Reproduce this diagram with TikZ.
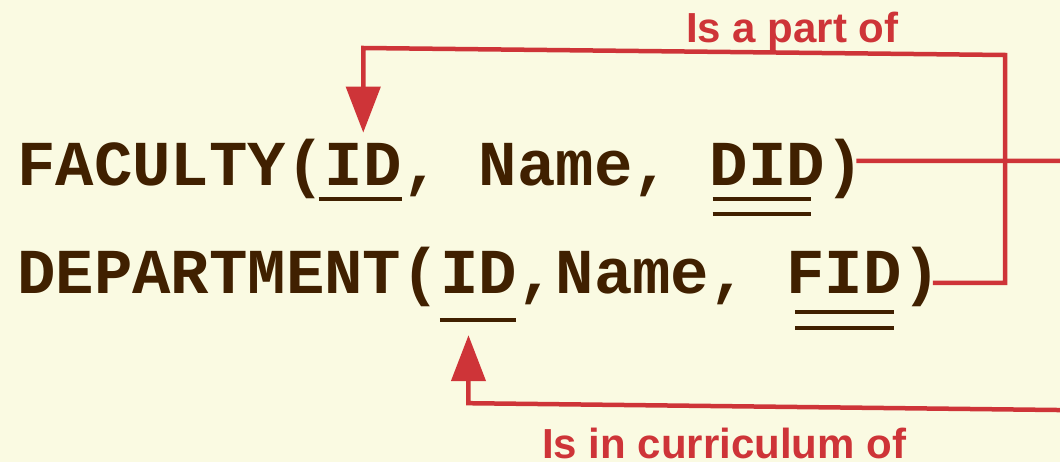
\documentclass[tikz,border=0pt]{standalone}
\usepackage{fontspec}
\setmainfont{Liberation Sans}
\newfontfamily\relfont{Liberation Mono}
\usetikzlibrary{arrows.meta, positioning}
\definecolor{paper}{RGB}{250,250,226}
\definecolor{ink}{RGB}{64,32,0}
\definecolor{fkred}{RGB}{206,52,56}
\newcommand{\cw}{38.4pt}% one character of the relation font

\begin{document}
\begin{tikzpicture}[x=1pt, y=-1pt, rel/.style={inner sep=0pt, anchor=base west, text=ink, font=\fontsize{64}{64}\selectfont\relfont\bfseries},key/.style={draw=ink, line width=4pt},fk/.style={draw=fkred, line width=4.5pt},arrow/.style={fk, -{Triangle[length=46pt, width=34pt]}},tag/.style={inner sep=0pt, anchor=base west, text=fkred, font=\fontsize{42}{42}\selectfont\bfseries}]
\fill[paper] (0,0) rectangle (1060,462);
\clip (0,0) rectangle (1060,462);
% FACULTY(ID, Name, DID)
\node[rel] (fac) at (17,186) {FACULTY(};
\node[rel] (facid) at (fac.base east) {ID};
\node[rel] (facname) at (facid.base east) {, Name,};
\node[right=\cw of facname.base east, rel] (facdid) {DID};
\node[rel] (facend) at (facdid.base east) {)};
% DEPARTMENT(ID,Name, FID)
\node[rel] (dep) at (17,294) {DEPARTMENT(};
\node[rel] (depid) at (dep.base east) {ID};
\node[rel] (depname) at (depid.base east) {,Name,};
\node[right=\cw of depname.base east, rel] (depfid) {FID};
\node[rel] (depend) at (depfid.base east) {)};
% keys: single line = primary, double line = foreign
\draw[key] ([xshift=-6pt, yshift=-13pt]facid.base west) -- ([yshift=-13pt]facid.base east);
\draw[key] ([yshift=-26pt]depid.base west) -- ([xshift=-1pt, yshift=-26pt]depid.base east);
\draw[key] ([xshift=3pt, yshift=-13pt]facdid.base west) -- ([xshift=-14pt, yshift=-13pt]facdid.base east);
\draw[key] ([xshift=3pt, yshift=-28pt]facdid.base west) -- ([xshift=-14pt, yshift=-28pt]facdid.base east);
\draw[key] ([xshift=9pt, yshift=-18pt]depfid.base west) -- ([xshift=-8pt, yshift=-18pt]depfid.base east);
\draw[key] ([xshift=9pt, yshift=-33.5pt]depfid.base west) -- ([xshift=-8pt, yshift=-33.5pt]depfid.base east);
% FID -> FACULTY.ID
\coordinate (ne) at (1005,55);
\coordinate (nw) at (facid.north |- 0,48);
\draw[arrow] ([xshift=-8pt, yshift=11pt]depend.base east) -| (ne) -- (nw) -- ([yshift=11pt]facid.north);
\node[tag] (partof) at (686,43) {Is a part of};
% DID -> DEPARTMENT.ID, running round the right edge
\coordinate (se) at (1100,410.5);
\coordinate (sw) at ([xshift=-10pt, yshift=-109pt]depid.south);
\draw[arrow] ([xshift=-7.5pt, yshift=25pt]facend.base east) -| (se) -- (sw) -- ([xshift=-10pt, yshift=-41pt]depid.south);
\node[tag] (curric) at (542,458) {Is in curriculum of};
\end{tikzpicture}
\end{document}
